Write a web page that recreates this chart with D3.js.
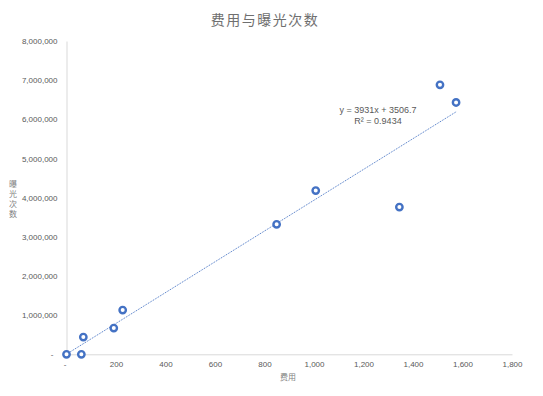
<!DOCTYPE html>
<html>
<head>
<meta charset="utf-8">
<script src="https://cdn.jsdelivr.net/npm/d3@7"></script>
<style>
  body { margin: 0; background: #fff; }
  svg text { font-family: "Liberation Sans", Arial, sans-serif; fill: #595959; }
  .cjk { font-family: "Noto Sans CJK SC", sans-serif; }
</style>
</head>
<body>
<div id="chart"></div>
<script>
// 数据：费用 与 曝光次数
const cost = [0, 60, 68, 191, 227, 849, 1007, 1345, 1509, 1574];
const views = [0, 0, 440000, 670000, 1130000, 3320000, 4180000, 3760000, 6880000, 6430000];
const xTicks = [0, 200, 400, 600, 800, 1000, 1200, 1400, 1600, 1800];
const yTicks = [0, 1000000, 2000000, 3000000, 4000000, 5000000, 6000000, 7000000, 8000000];
const slope = 3931, intercept = 3506.7, r2 = 0.9434;

const width = 543, height = 396;
const blue = "#4472C4";

const svg = d3.select("#chart").append("svg")
    .attr("width", width)
    .attr("height", height);

const x = d3.scaleLinear().domain([0, 1800]).range([66.5, 512]);
const y = d3.scaleLinear().domain([0, 8000000]).range([354.3, 41]);

const fmt = v => v === 0 ? "-" : d3.format(",")(v);

// 标题
svg.append("text")
    .attr("class", "cjk")
    .attr("x", 265).attr("y", 25)
    .attr("text-anchor", "middle")
    .attr("fill", "#6f6f6f")
    .style("fill", "#6f6f6f")
    .style("font-size", "14px")
    .style("letter-spacing", "1.5px")
    .text("费用与曝光次数");

// 坐标轴
const xAxis = svg.append("g")
    .attr("transform", `translate(0,${y(0)})`)
    .call(d3.axisBottom(x).tickValues(xTicks).tickFormat(fmt).tickSize(0).tickPadding(7));
const yAxis = svg.append("g")
    .attr("transform", `translate(${x(0)},0)`)
    .call(d3.axisLeft(y).tickValues(yTicks).tickFormat(fmt).tickSize(0).tickPadding(9));

[xAxis, yAxis].forEach(g => {
    g.select(".domain").attr("stroke", "#d9d9d9").attr("stroke-width", 1);
    g.selectAll("text").style("font-size", "8px").attr("fill", "#595959");
});
xAxis.selectAll("text").filter(d => d === 0).attr("dx", -2);
yAxis.selectAll("text").filter(d => d === 0).attr("dx", -4);

// 坐标轴标题
svg.append("text")
    .attr("class", "cjk")
    .attr("x", 288).attr("y", 380)
    .attr("text-anchor", "middle")
    .style("font-size", "8px")
    .style("fill", "#7f7f7f")
    .text("费用");

const yTitle = svg.append("text")
    .attr("class", "cjk")
    .attr("text-anchor", "middle")
    .style("fill", "#7f7f7f")
    .style("font-size", "8px");
"曝光次数".split("").forEach((ch, i) => {
    yTitle.append("tspan").attr("x", 13).attr("y", 187 + i * 10).text(ch);
});

// 趋势线
const xMax = d3.max(cost);
svg.append("line")
    .attr("x1", x(0)).attr("y1", y(intercept))
    .attr("x2", x(xMax)).attr("y2", y(slope * xMax + intercept))
    .attr("stroke", blue)
    .attr("stroke-width", 1)
    .attr("stroke-dasharray", "1,1");

// 趋势线公式
svg.append("text")
    .attr("x", 378).attr("y", 113)
    .attr("text-anchor", "middle")
    .style("font-size", "9px")
    .text(`y = ${slope}x + ${intercept}`);
svg.append("text")
    .attr("x", 378).attr("y", 124)
    .attr("text-anchor", "middle")
    .style("font-size", "9px")
    .text(`R² = ${r2}`);

// 散点
svg.selectAll("circle.pt")
    .data(cost.map((c, i) => [c, views[i]]))
    .enter().append("circle")
    .attr("class", "pt")
    .attr("cx", d => x(d[0]))
    .attr("cy", d => y(d[1]))
    .attr("r", 3.2)
    .attr("fill", "#fff")
    .attr("stroke", blue)
    .attr("stroke-width", 2.4);
</script>
</body>
</html>
